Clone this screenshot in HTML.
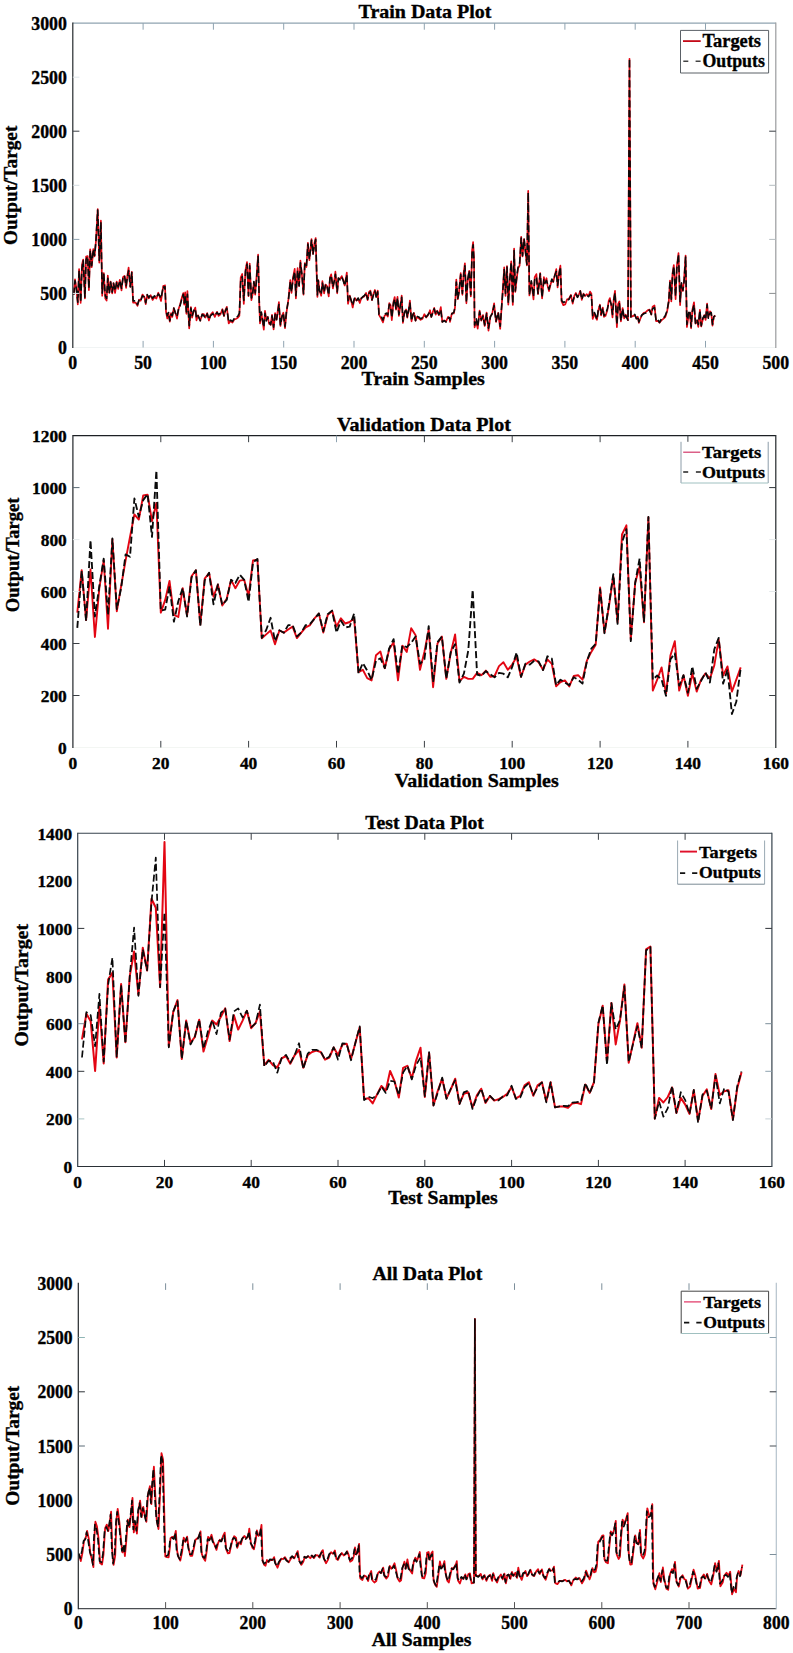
<!DOCTYPE html>
<html><head><meta charset="utf-8"><title>Data Plots</title>
<style>html,body{margin:0;padding:0;background:#fff}svg{display:block}text{font-family:"Liberation Serif","DejaVu Serif",serif;font-weight:bold;fill:#000;stroke:#000;stroke-width:.35px}</style></head>
<body>
<svg width="793" height="1653" viewBox="0 0 793 1653">
<rect width="793" height="1653" fill="#fff"/>
<g id="p1">
<path d="M73.8 294.5 L75 279.4 L76.3 287.6 L77.8 304.4 L79.1 269 L80.7 302.9 L82 264.7 L83.2 259.5 L84.9 298.4 L86.1 256.5 L87.7 256.1 L88.9 290.2 L90.2 249.4 L91.7 267.1 L93.3 249.1 L94.6 256.3 L95.9 241.6 L97.7 209.1 L99.3 262.6 L100.9 220.7 L102.2 295.8 L103.8 273.1 L105.3 298.6 L106.6 300.6 L107.8 275.6 L109.3 293 L110.6 281.6 L112.2 293.3 L113.5 283 L115.1 293 L116.7 281.6 L118.2 288.8 L119.8 279.9 L121.5 290.4 L123 277.2 L124.5 276 L126.1 288 L127.4 275.5 L128.6 267.6 L130.3 286.7 L131.8 271.8 L133.1 302.7 L135.6 302.5 L137.5 305.9 L139.1 299.6 L140.6 300.7 L142.5 294.6 L144.4 297.1 L145.7 304.1 L147.2 295.1 L148.8 298.3 L150.7 295.2 L152.6 299.9 L154.5 297.1 L156.4 298.5 L158.3 292.7 L159.8 297.3 L161 301 L163.3 285.8 L164.3 286.5 L165 285.3 L166 311.5 L167.3 318.5 L168.5 313.1 L169.8 321.6 L171.1 313.2 L172.3 316.9 L173.8 308.2 L175.3 312.3 L177 318.6 L178.6 309 L180.1 304.5 L181.6 298.6 L183.3 293.1 L184.2 304.6 L185.2 292.4 L186.4 313.8 L187.4 291 L189.2 328.4 L190.9 307 L192.1 317.6 L193.8 311.1 L195.3 307.6 L196.5 320.3 L198 315.3 L200.3 320.6 L202.2 314.2 L203.8 314.1 L205.4 317.6 L207.2 313.1 L208.9 320.5 L210.6 314.7 L212.7 312.2 L214.8 316.9 L217 311.8 L218.6 315.9 L220.5 314.3 L222.4 309.2 L224 316 L225.5 309.9 L226.8 306.9 L228.7 323.4 L230.6 321 L232.5 322.5 L234.4 319.4 L236.2 318.7 L238.1 317.5 L239.4 315.8 L240.7 277.6 L242.2 274 L243.8 303.9 L245.5 269.9 L247 262.1 L248.5 296.1 L249.7 263.6 L251.4 300.2 L252.6 294.4 L253.9 282 L255.2 294.7 L256.4 278.5 L258.1 254.7 L259.3 304.1 L260 323.4 L261.3 312.6 L262.5 320.8 L263.8 329.7 L265 310.8 L266.3 319.7 L267.8 316.9 L269.1 323.9 L270.7 324.9 L272 314.8 L273.6 329.4 L275.1 313.2 L276.6 319.7 L278.9 302 L280.4 326 L282.1 316 L283.3 312.7 L285 328.2 L286.5 312.6 L288.4 299.4 L290.3 280 L291.5 292.9 L293 277.6 L294.7 268.9 L295.9 298.5 L297.6 268.2 L299.1 286.1 L300.4 260.7 L301.9 274.8 L303.5 294.7 L304.8 263.1 L306.4 267 L307.9 242.9 L309.4 260.2 L311.5 239.2 L313 253.9 L314.5 242.8 L315.7 238 L316.7 275.1 L317.4 296.9 L318.3 280 L319.5 290.4 L321.2 295.8 L322.4 281.2 L324.1 293.3 L325.6 284.5 L327.1 286.4 L328.7 296.4 L330 277.6 L331.2 274.4 L332.9 288.5 L334.4 280.1 L335.4 271.7 L337.2 293.3 L338.4 278.3 L340.1 279 L341.7 276.1 L343.2 279.9 L344.7 285.5 L346.8 272.6 L348 303.8 L349.8 295.7 L351 299.5 L352.7 307.5 L354.3 299.7 L355 298.1 L356.5 300.5 L358.2 299.1 L359.8 303 L361.3 298.1 L362.8 297.3 L364.5 296.2 L366.1 292.9 L367.6 300.1 L369.1 291.9 L370.4 290.6 L372 300.1 L373.7 293 L374.9 290 L376.4 296.8 L377.7 290.6 L379 314.9 L380.9 318.1 L383 322.4 L384.6 315.7 L386.3 314.3 L387.8 316.6 L389.3 303.1 L390.6 305.1 L391.8 320.2 L393.5 301.6 L394.7 297 L396 309.6 L397.5 296.8 L398.9 315.9 L400.1 307.7 L401.7 295.7 L402.9 322.9 L404.4 313 L406.1 309.4 L407.3 317.6 L408.6 311 L409.9 300.6 L411.5 321.3 L413 314.6 L414 312.9 L415.5 320.6 L417 317 L418.7 318.1 L420.6 319.9 L422.5 318.7 L424.4 314.2 L426.2 317.5 L428.1 315.3 L430 310.2 L431.3 317 L432.9 311.8 L434.2 307.9 L435.7 314.6 L437.2 310.7 L438.9 315.2 L440.8 307.2 L442.3 321.8 L444.3 320.3 L446 321.7 L448.1 316.8 L449.6 318.8 L450 321.9 L451.9 313.3 L453.8 313.5 L455 307.7 L456.3 279.6 L457.8 299.1 L459.1 291.8 L460.7 273 L462.4 294.8 L463.6 273.3 L464.9 263.3 L466.4 303.3 L467.7 280.3 L469.2 270.9 L470.8 296.4 L472.1 250 L473.1 242 L474 258.4 L474.6 327.3 L476.2 321.5 L477.7 328.6 L479.6 310.7 L481.3 320.6 L483 315.1 L484.7 326 L486.6 312.5 L488.5 330.7 L490.4 316.4 L492.2 313.7 L494.1 303.4 L496 322 L498.2 312.9 L500.2 328.8 L501.7 305.7 L503 286.9 L504.2 267.3 L505.5 295.9 L507 266.2 L508.3 304.6 L509.5 285.2 L511.2 261.4 L512.8 304.9 L514.1 248.5 L515.3 291.9 L516.8 278 L518.1 268.3 L519.6 265.5 L521.2 236.8 L522.5 256.5 L524.1 239 L525.4 251.4 L526.9 265.4 L528.2 190.9 L529.4 295.4 L531.3 281.9 L533.5 299.4 L534.7 277.1 L536.4 274.1 L538 294.2 L540.2 273 L542.1 298.4 L543.9 277.2 L545 283.6 L546.5 278.2 L547.5 285.4 L549 291.1 L550.7 284.1 L551.9 280 L553.2 282 L554.8 275.4 L556.3 269.2 L557.6 287.5 L559.1 272.3 L560.4 265.7 L561.6 301.4 L563.3 305.1 L565.2 304.4 L567.1 299.4 L569 298.7 L570.9 295 L572.7 303.6 L574.3 296 L575.9 293 L577.5 296.9 L579 294.3 L580.3 290.9 L581.8 299.8 L583.5 293.6 L585.1 296 L586.6 294.2 L588.5 296.2 L590.1 291.6 L591.4 293.7 L592.7 318.9 L594.4 313 L595.7 317.4 L597 319.8 L598.2 310.8 L599.9 304.7 L601.1 315.3 L602.8 307.5 L604 316.9 L605.5 315.9 L607.4 310 L608.7 300.8 L609.9 298.1 L611.2 305.2 L612.5 317.5 L613.7 299.3 L615 290.8 L616.9 327.1 L618.1 304.1 L619.4 301.5 L620.9 321.4 L622.6 308 L624.2 318.5 L625.7 314.7 L628 320.1 L629.5 58.8 L630.9 316.9 L633.3 315.9 L634.8 315 L636.4 318.5 L637.7 316.7 L638.9 322.8 L640 319.5 L641.9 315.1 L643.8 312.9 L645.7 312.2 L647.6 310.4 L649.5 309.6 L651.3 314.5 L652.6 306.8 L654.5 305.5 L656.1 321.2 L657.9 320.8 L659.5 322.7 L661.4 320.4 L663.3 318.8 L665.2 317.2 L667.1 311.5 L668.8 301.5 L670 280.5 L671.3 301.4 L672.5 273.3 L673.8 265.1 L675.6 299.1 L676.8 266.7 L678.5 253.2 L680.1 305.1 L681.4 284.1 L682.9 291 L684.1 278.9 L685.6 255.6 L686.9 327 L688.5 316.4 L689.8 312.4 L691.1 328.3 L692.3 310.2 L694 302.3 L695.5 323.6 L697 320.5 L698.3 326.9 L699.9 309.8 L701.2 326.5 L702.8 319.5 L704.3 315 L705.6 319.9 L707.1 303.6 L708.3 317.6 L710 311.4 L711.2 312.9 L712.5 325.6 L713.8 316.6 L715.3 315.5" fill="none" stroke="#e30613" stroke-width="1.7" stroke-linejoin="round"/>
<path d="M73.8 294.6 L75 280.7 L76.3 288.3 L77.8 302.1 L79.1 270.6 L80.7 302.1 L82 268.1 L83.2 260.5 L84.9 297.1 L86.1 259.3 L87.7 256.7 L88.9 288.3 L90.2 250.4 L91.7 265.6 L93.3 249.2 L94.6 255.5 L95.9 241.6 L97.7 210.1 L99.3 260.5 L100.9 222.1 L102.2 293.3 L103.8 274.4 L105.3 295.8 L106.6 298.4 L107.8 278.2 L109.3 293.3 L110.6 282 L112.2 292.1 L113.5 283.2 L115.1 290.8 L116.7 282 L118.2 287 L119.8 280.7 L121.5 288.3 L123 278.2 L124.5 275.7 L126.1 285.8 L127.4 276.9 L128.6 270.6 L130.3 287 L131.8 272.5 L133.1 300.9 L135.6 300.9 L137.5 304.7 L139.1 299.6 L140.6 300.9 L142.5 295.8 L144.4 297.1 L145.7 302.8 L147.2 294.6 L148.8 297.7 L150.7 294.6 L152.6 298.4 L154.5 295.8 L156.4 297.7 L158.3 293.9 L159.8 295.8 L161 298.4 L163.3 286.4 L164.3 288.3 L165 286.7 L166 310.6 L167.3 315.7 L168.5 312.5 L169.8 320.7 L171.1 314.4 L172.3 315.7 L173.8 308.1 L175.3 313.1 L177 316.3 L178.6 308.7 L180.1 305.6 L181.6 299.9 L183.3 294.2 L184.2 303.1 L185.2 295.5 L186.4 311.9 L187.4 294.2 L189.2 325.8 L190.9 308.1 L192.1 315.7 L193.8 310.6 L195.3 308.7 L196.5 318.2 L198 315.7 L200.3 320.7 L202.2 314.4 L203.8 315.7 L205.4 318.2 L207.2 313.8 L208.9 319.4 L210.6 315.7 L212.7 313.8 L214.8 315.7 L217 312.5 L218.6 314.4 L220.5 313.1 L222.4 310 L224 315.7 L225.5 310.6 L226.8 308.1 L228.7 322 L230.6 320.1 L232.5 321.3 L234.4 318.2 L236.2 317.6 L238.1 315.7 L239.4 313.1 L240.7 280.4 L242.2 276.6 L243.8 300.5 L245.5 271.5 L247 264 L248.5 295.5 L249.7 265.9 L251.4 298 L252.6 294.2 L253.9 281.6 L255.2 293 L256.4 281.6 L258.1 256.4 L259.3 303.1 L260 320.9 L261.3 312.1 L262.5 319.6 L263.8 327.2 L265 313.3 L266.3 320.9 L267.8 317.1 L269.1 322.1 L270.7 324.7 L272 315.8 L273.6 327.2 L275.1 314.6 L276.6 319.6 L278.9 304.5 L280.4 324.7 L282.1 315.8 L283.3 313.3 L285 326.6 L286.5 310.8 L288.4 300.7 L290.3 281.8 L291.5 291.9 L293 279.3 L294.7 271.7 L295.9 295.7 L297.6 270.4 L299.1 285.6 L300.4 262.9 L301.9 274.2 L303.5 293.8 L304.8 264.1 L306.4 266.7 L307.9 244 L309.4 259.1 L311.5 240.2 L313 254 L314.5 245.2 L315.7 239.5 L316.7 273 L317.4 295 L318.3 280.5 L319.5 290.6 L321.2 294.4 L322.4 283.1 L324.1 291.9 L325.6 284.3 L327.1 286.8 L328.7 295 L330 278 L331.2 275.5 L332.9 286.8 L334.4 280.5 L335.4 274.2 L337.2 291.9 L338.4 278 L340.1 279.9 L341.7 277.4 L343.2 280.5 L344.7 285.6 L346.8 274.9 L348 300.7 L349.8 296.3 L351 300.1 L352.7 305.1 L354.3 298.8 L355 297.4 L356.5 300.5 L358.2 298 L359.8 301.2 L361.3 298.6 L362.8 296.7 L364.5 295.5 L366.1 293 L367.6 299.3 L369.1 293 L370.4 291.7 L372 299.9 L373.7 294.2 L374.9 291.1 L376.4 298 L377.7 291.7 L379 314.4 L380.9 315.7 L383 320.1 L384.6 314.4 L386.3 313.1 L387.8 315 L389.3 304.3 L390.6 306.8 L391.8 317.6 L393.5 303.1 L394.7 299.3 L396 308.7 L397.5 298 L398.9 314.4 L400.1 306.8 L401.7 297.4 L402.9 321.3 L404.4 313.1 L406.1 308.7 L407.3 316.9 L408.6 310.6 L409.9 303.1 L411.5 320.7 L413 314.4 L414 312.5 L415.5 320.7 L417 316.3 L418.7 316.9 L420.6 318.8 L422.5 317.6 L424.4 315.7 L426.2 316.9 L428.1 314.4 L430 311.9 L431.3 316.9 L432.9 312.5 L434.2 308.7 L435.7 314.4 L437.2 311.2 L438.9 314.4 L440.8 310 L442.3 322 L444.3 320.7 L446 322 L448.1 318.2 L449.6 317.6 L450 320 L451.9 313.7 L453.8 312.4 L455 307.4 L456.3 282.1 L457.8 298.5 L459.1 291 L460.7 274.6 L462.4 293.5 L463.6 275.8 L464.9 265.8 L466.4 302.3 L467.7 279.6 L469.2 270.8 L470.8 294.8 L472.1 253.1 L473.1 244.9 L474 260.7 L474.6 325 L476.2 318.7 L477.7 326.9 L479.6 311.8 L481.3 320 L483 316.2 L484.7 325 L486.6 313.7 L488.5 328.2 L490.4 316.8 L492.2 313.7 L494.1 305.5 L496 321.2 L498.2 312.4 L500.2 326.3 L501.7 306.1 L503 288.4 L504.2 269.5 L505.5 293.5 L507 267 L508.3 303 L509.5 283.4 L511.2 262.6 L512.8 303.6 L514.1 250.6 L515.3 291 L516.8 275.8 L518.1 267 L519.6 263.9 L521.2 238 L522.5 255.7 L524.1 239.3 L525.4 250.6 L526.9 264.5 L528.2 192.6 L529.4 294.8 L531.3 280.9 L533.5 296.6 L534.7 279.6 L536.4 277.1 L538 293.5 L540.2 273.9 L542.1 297.3 L543.9 279.6 L545 282.9 L546.5 280.4 L547.5 284.1 L549 289.2 L550.7 282.9 L551.9 279.1 L553.2 281.6 L554.8 275.3 L556.3 271.5 L557.6 285.4 L559.1 274 L560.4 267.1 L561.6 300.5 L563.3 302.4 L565.2 301.8 L567.1 300.5 L569 299.3 L570.9 295.5 L572.7 301.8 L574.3 296.7 L575.9 294.2 L577.5 297.4 L579 294.2 L580.3 291.1 L581.8 299.3 L583.5 294.2 L585.1 296.1 L586.6 294.9 L588.5 296.7 L590.1 294.2 L591.4 295.5 L592.7 315.7 L594.4 312.5 L595.7 315.7 L597 319.4 L598.2 310.6 L599.9 305.6 L601.1 314.4 L602.8 308.1 L604 315.7 L605.5 314.4 L607.4 308.7 L608.7 303.1 L609.9 300.5 L611.2 304.3 L612.5 314.4 L613.7 300.5 L615 293 L616.9 324.5 L618.1 305.6 L619.4 303.7 L620.9 320.7 L622.6 308.7 L624.2 318.2 L625.7 315.7 L628 320.1 L629.5 58.8 L630.9 316.9 L633.3 315.7 L634.8 314.4 L636.4 318.8 L637.7 316.3 L638.9 322 L640 318.2 L641.9 315 L643.8 313.8 L645.7 313.1 L647.6 311.9 L649.5 310 L651.3 314.4 L652.6 308.7 L654.5 307.5 L656.1 320.7 L657.9 319.4 L659.5 322.6 L661.4 318.8 L663.3 318.2 L665.2 315.7 L667.1 310.6 L668.8 300.5 L670 281.6 L671.3 299.3 L672.5 275.3 L673.8 266.5 L675.6 296.1 L676.8 269 L678.5 254.5 L680.1 301.8 L681.4 282.9 L682.9 290.4 L684.1 281.6 L685.6 257 L686.9 324.5 L688.5 313.1 L689.8 310.6 L691.1 327 L692.3 311.9 L694 304.9 L695.5 323.2 L697 319.4 L698.3 324.5 L699.9 310.6 L701.2 325.8 L702.8 318.2 L704.3 315.7 L705.6 319.4 L707.1 304.9 L708.3 318.2 L710 313.1 L711.2 312.5 L712.5 324.5 L713.8 316.9 L715.3 315.7" fill="none" stroke="#0a0a0a" stroke-width="1.6" stroke-dasharray="7 3" stroke-linejoin="round"/>
<line x1="72.8" y1="347.5" x2="775.8" y2="347.5" stroke="#f1f4f4" stroke-width="1.2"/>
<line x1="72.8" y1="23.1" x2="775.8" y2="23.1" stroke="#8fa3b0" stroke-width="1.1"/>
<line x1="775.8" y1="22.6" x2="775.8" y2="348.1" stroke="#9a9c9e" stroke-width="1.2"/>
<line x1="72.8" y1="22.6" x2="72.8" y2="348.1" stroke="#24282c" stroke-width="1.2"/>
<text x="72.8" y="368.9" font-size="18.1" text-anchor="middle" textLength="8.9" lengthAdjust="spacingAndGlyphs">0</text>
<line x1="143.1" y1="347.5" x2="143.1" y2="340.9" stroke="#8fa3b0" stroke-width="1"/>
<line x1="143.1" y1="23.1" x2="143.1" y2="29.7" stroke="#8fa3b0" stroke-width="1"/>
<text x="143.1" y="368.9" font-size="18.1" text-anchor="middle" textLength="17.8" lengthAdjust="spacingAndGlyphs">50</text>
<line x1="213.4" y1="347.5" x2="213.4" y2="340.9" stroke="#8fa3b0" stroke-width="1"/>
<line x1="213.4" y1="23.1" x2="213.4" y2="29.7" stroke="#8fa3b0" stroke-width="1"/>
<text x="213.4" y="368.9" font-size="18.1" text-anchor="middle" textLength="26.7" lengthAdjust="spacingAndGlyphs">100</text>
<line x1="283.7" y1="347.5" x2="283.7" y2="340.9" stroke="#8fa3b0" stroke-width="1"/>
<line x1="283.7" y1="23.1" x2="283.7" y2="29.7" stroke="#8fa3b0" stroke-width="1"/>
<text x="283.7" y="368.9" font-size="18.1" text-anchor="middle" textLength="26.7" lengthAdjust="spacingAndGlyphs">150</text>
<line x1="354" y1="347.5" x2="354" y2="340.9" stroke="#8fa3b0" stroke-width="1"/>
<line x1="354" y1="23.1" x2="354" y2="29.7" stroke="#8fa3b0" stroke-width="1"/>
<text x="354" y="368.9" font-size="18.1" text-anchor="middle" textLength="26.7" lengthAdjust="spacingAndGlyphs">200</text>
<line x1="424.3" y1="347.5" x2="424.3" y2="340.9" stroke="#8fa3b0" stroke-width="1"/>
<line x1="424.3" y1="23.1" x2="424.3" y2="29.7" stroke="#8fa3b0" stroke-width="1"/>
<text x="424.3" y="368.9" font-size="18.1" text-anchor="middle" textLength="26.7" lengthAdjust="spacingAndGlyphs">250</text>
<line x1="494.6" y1="347.5" x2="494.6" y2="340.9" stroke="#8fa3b0" stroke-width="1"/>
<line x1="494.6" y1="23.1" x2="494.6" y2="29.7" stroke="#8fa3b0" stroke-width="1"/>
<text x="494.6" y="368.9" font-size="18.1" text-anchor="middle" textLength="26.7" lengthAdjust="spacingAndGlyphs">300</text>
<line x1="564.9" y1="347.5" x2="564.9" y2="340.9" stroke="#8fa3b0" stroke-width="1"/>
<line x1="564.9" y1="23.1" x2="564.9" y2="29.7" stroke="#8fa3b0" stroke-width="1"/>
<text x="564.9" y="368.9" font-size="18.1" text-anchor="middle" textLength="26.7" lengthAdjust="spacingAndGlyphs">350</text>
<line x1="635.2" y1="347.5" x2="635.2" y2="340.9" stroke="#8fa3b0" stroke-width="1"/>
<line x1="635.2" y1="23.1" x2="635.2" y2="29.7" stroke="#8fa3b0" stroke-width="1"/>
<text x="635.2" y="368.9" font-size="18.1" text-anchor="middle" textLength="26.7" lengthAdjust="spacingAndGlyphs">400</text>
<line x1="705.5" y1="347.5" x2="705.5" y2="340.9" stroke="#8fa3b0" stroke-width="1"/>
<line x1="705.5" y1="23.1" x2="705.5" y2="29.7" stroke="#8fa3b0" stroke-width="1"/>
<text x="705.5" y="368.9" font-size="18.1" text-anchor="middle" textLength="26.7" lengthAdjust="spacingAndGlyphs">450</text>
<text x="775.8" y="368.9" font-size="18.1" text-anchor="middle" textLength="26.7" lengthAdjust="spacingAndGlyphs">500</text>
<text x="66.9" y="354.1" font-size="18.1" text-anchor="end" textLength="8.9" lengthAdjust="spacingAndGlyphs">0</text>
<line x1="72.8" y1="293.4" x2="79.4" y2="293.4" stroke="#e3e9ec" stroke-width="1"/>
<line x1="775.8" y1="293.4" x2="769.2" y2="293.4" stroke="#8a8d90" stroke-width="1"/>
<text x="66.9" y="300.1" font-size="18.1" text-anchor="end" textLength="26.7" lengthAdjust="spacingAndGlyphs">500</text>
<line x1="72.8" y1="239.4" x2="79.4" y2="239.4" stroke="#8fa3b0" stroke-width="1"/>
<line x1="775.8" y1="239.4" x2="769.2" y2="239.4" stroke="#b5bcc0" stroke-width="1"/>
<text x="66.9" y="246" font-size="18.1" text-anchor="end" textLength="35.6" lengthAdjust="spacingAndGlyphs">1000</text>
<line x1="72.8" y1="185.3" x2="79.4" y2="185.3" stroke="#d5dde2" stroke-width="1"/>
<line x1="775.8" y1="185.3" x2="769.2" y2="185.3" stroke="#b5bcc0" stroke-width="1"/>
<text x="66.9" y="191.9" font-size="18.1" text-anchor="end" textLength="35.6" lengthAdjust="spacingAndGlyphs">1500</text>
<line x1="72.8" y1="131.2" x2="79.4" y2="131.2" stroke="#3a3f44" stroke-width="1"/>
<line x1="775.8" y1="131.2" x2="769.2" y2="131.2" stroke="#3a3f44" stroke-width="1"/>
<text x="66.9" y="137.9" font-size="18.1" text-anchor="end" textLength="35.6" lengthAdjust="spacingAndGlyphs">2000</text>
<line x1="72.8" y1="77.2" x2="79.4" y2="77.2" stroke="#dfe6ea" stroke-width="1"/>
<text x="66.9" y="83.8" font-size="18.1" text-anchor="end" textLength="35.6" lengthAdjust="spacingAndGlyphs">2500</text>
<text x="66.9" y="29.7" font-size="18.1" text-anchor="end" textLength="35.6" lengthAdjust="spacingAndGlyphs">3000</text>
<text x="425" y="17.7" font-size="18.30" text-anchor="middle" textLength="132.8" lengthAdjust="spacingAndGlyphs">Train Data Plot</text>
<text x="423.2" y="385.4" font-size="18.30" text-anchor="middle" textLength="123.2" lengthAdjust="spacingAndGlyphs">Train Samples</text>
<text transform="translate(17 185.3) rotate(-90)" font-size="19.28" text-anchor="middle" textLength="119.3" lengthAdjust="spacingAndGlyphs">Output/Target</text>
<rect x="680.5" y="30.4" width="88.1" height="42.6" fill="#fff"/>
<line x1="680.5" y1="30.4" x2="680.5" y2="73" stroke="#5a6066" stroke-width="1"/>
<line x1="680.5" y1="30.4" x2="768.6" y2="30.4" stroke="#5a6066" stroke-width="1"/>
<line x1="768.6" y1="30.4" x2="768.6" y2="73" stroke="#5a6066" stroke-width="1"/>
<line x1="680.5" y1="73" x2="768.6" y2="73" stroke="#5a6066" stroke-width="1"/>
<line x1="683" y1="41.1" x2="700.7" y2="41.1" stroke="#c40a18" stroke-width="1.8"/>
<line x1="683.3" y1="61.3" x2="700.6" y2="61.3" stroke="#444" stroke-width="1.4" stroke-dasharray="5 7.3"/>
<text x="702.5" y="47.3" font-size="18.40" text-anchor="start" textLength="58.5" lengthAdjust="spacingAndGlyphs">Targets</text>
<text x="702.5" y="67.2" font-size="18.40" text-anchor="start" textLength="62.4" lengthAdjust="spacingAndGlyphs">Outputs</text>
</g>
<g id="p2">
<path d="M77.3 612.6 L81.7 570.2 L86.1 620.1 L90.5 569.5 L94.9 637 L99.3 588.4 L103.7 560.4 L108 628.7 L112.4 539.3 L116.8 611.3 L121.2 585.6 L125.6 560.4 L130 537 L134.4 514.4 L138.8 519.6 L143.2 495.4 L147.6 494.6 L152 521.1 L156.4 502.9 L160.8 612.6 L165.2 599.9 L169.5 580.9 L173.9 614.9 L178.3 617 L182.7 588.2 L187.1 615.5 L191.5 576.2 L195.9 570.2 L200.3 624.6 L204.7 578.6 L209.1 573.1 L213.5 596.7 L217.9 584.5 L222.3 605.6 L226.7 598.8 L231.1 579.9 L235.4 588.2 L239.8 580.6 L244.2 579.9 L248.6 596 L253 560.4 L257.4 559.6 L261.8 638.3 L266.2 634.4 L270.6 630.5 L275 644.3 L279.4 630.5 L283.8 632.6 L288.2 629.5 L292.6 626.6 L296.9 638.1 L301.3 632.6 L305.7 627.4 L310.1 625.1 L314.5 618.3 L318.9 613.6 L323.3 632.6 L327.7 615.2 L332.1 610.8 L336.5 626.6 L340.9 618.3 L345.3 623.5 L349.7 622 L354.1 618.3 L358.5 672.1 L362.8 669.8 L367.2 678.1 L371.6 680.4 L376 655.2 L380.4 651.6 L384.8 668.2 L389.2 649.3 L393.6 642.2 L398 680.4 L402.4 645.6 L406.8 651.9 L411.2 628.2 L415.6 635.2 L420 669.8 L424.4 651.9 L428.7 629.8 L433.1 687.2 L437.5 643.5 L441.9 636.5 L446.3 678.9 L450.7 653.2 L455.1 634.4 L459.5 681.2 L463.9 676.8 L468.3 678.9 L472.7 678.9 L477.1 672.9 L481.5 675.2 L485.9 670.6 L490.2 676.8 L494.6 676 L499 666.1 L503.4 662.2 L507.8 669.8 L512.2 664.6 L516.6 657 L521 676.8 L525.4 664.6 L529.8 661.5 L534.2 659.4 L538.6 662.2 L543 669.8 L547.4 659.4 L551.8 663.8 L556.1 686.4 L560.5 682 L564.9 680.4 L569.3 686.4 L573.7 676 L578.1 675.2 L582.5 679.7 L586.9 660.7 L591.3 651.9 L595.7 644.8 L600.1 587.4 L604.5 632.6 L608.9 606.6 L613.3 576 L617.6 622.2 L622 534.4 L626.4 525.3 L630.8 639.4 L635.2 582.7 L639.6 566.6 L644 622.2 L648.4 517.2 L652.8 690.6 L657.2 679.7 L661.6 667.4 L666 693.7 L670.4 655.5 L674.8 641.2 L679.2 690.6 L683.5 675.5 L687.9 695.8 L692.3 673.4 L696.7 691.6 L701.1 679.7 L705.5 673.4 L709.9 678.6 L714.3 665.4 L718.7 639.4 L723.1 675.5 L727.5 666.4 L731.9 691.6 L736.3 679.7 L740.7 667.4" fill="none" stroke="#e30613" stroke-width="1.9" stroke-linejoin="round"/>
<path d="M77.3 627.9 L81.7 571 L86.1 620.9 L90.5 540.1 L94.9 616.5 L99.3 586.4 L103.7 558.7 L108 614.9 L112.4 538.5 L116.8 609 L121.2 587.7 L125.6 554.4 L130 556.7 L134.4 498.5 L138.8 516.7 L143.2 500.1 L147.6 494.1 L152 537 L156.4 470.4 L160.8 610.7 L165.2 609.7 L169.5 586.4 L173.9 621.7 L178.3 601.2 L182.7 588.1 L187.1 616.5 L191.5 577.6 L195.9 570.2 L200.3 625.9 L204.7 580.4 L209.1 572.8 L213.5 604.3 L217.9 584.4 L222.3 604.9 L226.7 600 L231.1 579.8 L235.4 583 L239.8 574.7 L244.2 579.9 L248.6 601.9 L253 562.3 L257.4 558.9 L261.8 637.9 L266.2 630 L270.6 617.8 L275 641.2 L279.4 630.3 L283.8 632.8 L288.2 625.1 L292.6 625.1 L296.9 636.5 L301.3 632.4 L305.7 625.1 L310.1 623.9 L314.5 618.8 L318.9 613.4 L323.3 631.3 L327.7 614.3 L332.1 610.6 L336.5 632.6 L340.9 620.7 L345.3 627.4 L349.7 626.6 L354.1 613.6 L358.5 673.5 L362.8 663 L367.2 670.6 L371.6 679.9 L376 660.7 L380.4 658.3 L384.8 668.1 L389.2 648.3 L393.6 639.1 L398 673.9 L402.4 645.3 L406.8 647.2 L411.2 642.8 L415.6 636.5 L420 663.8 L424.4 659.4 L428.7 626.1 L433.1 682 L437.5 642.1 L441.9 636.6 L446.3 678.6 L450.7 652.3 L455.1 644.1 L459.5 682.6 L463.9 673.7 L468.3 650.3 L472.7 589.7 L477.1 674.5 L481.5 675.8 L485.9 671.2 L490.2 674.2 L494.6 677.3 L499 672.9 L503.4 673.7 L507.8 677.3 L512.2 666.9 L516.6 652.4 L521 676.9 L525.4 663.7 L529.8 664.6 L534.2 660.7 L538.6 661.4 L543 670.1 L547.4 656.3 L551.8 658.6 L556.1 685.1 L560.5 679.7 L564.9 682.5 L569.3 685.2 L573.7 677.3 L578.1 679.7 L582.5 683.6 L586.9 661.2 L591.3 648.7 L595.7 643.9 L600.1 589.1 L604.5 633.2 L608.9 605 L613.3 574.1 L617.6 623.9 L622 542.4 L626.4 529.2 L630.8 641.1 L635.2 582.8 L639.6 558.5 L644 621.3 L648.4 517 L652.8 679.7 L657.2 675.5 L661.6 679.7 L666 695.8 L670.4 659.4 L674.8 653.4 L679.2 685.6 L683.5 675.1 L687.9 692.7 L692.3 666.4 L696.7 688.8 L701.1 680.9 L705.5 672.7 L709.9 682.5 L714.3 649.3 L718.7 637.9 L723.1 683.6 L727.5 669.5 L731.9 714 L736.3 701.8 L740.7 668" fill="none" stroke="#0a0a0a" stroke-width="1.85" stroke-dasharray="7 3" stroke-linejoin="round"/>
<line x1="72.9" y1="747.5" x2="775.8" y2="747.5" stroke="#f3f6f3" stroke-width="1.2"/>
<line x1="72.9" y1="435.6" x2="775.8" y2="435.6" stroke="#1c2024" stroke-width="1.1"/>
<line x1="775.8" y1="435.1" x2="775.8" y2="748.1" stroke="#22262a" stroke-width="1.2"/>
<line x1="72.9" y1="435.1" x2="72.9" y2="748.1" stroke="#22262a" stroke-width="1.2"/>
<text x="72.9" y="768.6" font-size="17" text-anchor="middle" textLength="8.7" lengthAdjust="spacingAndGlyphs">0</text>
<line x1="160.8" y1="747.5" x2="160.8" y2="740.9" stroke="#3a3f44" stroke-width="1"/>
<line x1="160.8" y1="435.6" x2="160.8" y2="442.2" stroke="#3a3f44" stroke-width="1"/>
<text x="160.8" y="768.6" font-size="17" text-anchor="middle" textLength="17.4" lengthAdjust="spacingAndGlyphs">20</text>
<line x1="248.6" y1="747.5" x2="248.6" y2="740.9" stroke="#3a3f44" stroke-width="1"/>
<line x1="248.6" y1="435.6" x2="248.6" y2="442.2" stroke="#3a3f44" stroke-width="1"/>
<text x="248.6" y="768.6" font-size="17" text-anchor="middle" textLength="17.4" lengthAdjust="spacingAndGlyphs">40</text>
<line x1="336.5" y1="747.5" x2="336.5" y2="740.9" stroke="#3a3f44" stroke-width="1"/>
<line x1="336.5" y1="435.6" x2="336.5" y2="442.2" stroke="#8fa3b0" stroke-width="1"/>
<text x="336.5" y="768.6" font-size="17" text-anchor="middle" textLength="17.4" lengthAdjust="spacingAndGlyphs">60</text>
<line x1="424.4" y1="747.5" x2="424.4" y2="740.9" stroke="#3a3f44" stroke-width="1"/>
<line x1="424.4" y1="435.6" x2="424.4" y2="442.2" stroke="#3a3f44" stroke-width="1"/>
<text x="424.4" y="768.6" font-size="17" text-anchor="middle" textLength="17.4" lengthAdjust="spacingAndGlyphs">80</text>
<line x1="512.2" y1="747.5" x2="512.2" y2="740.9" stroke="#3a3f44" stroke-width="1"/>
<line x1="512.2" y1="435.6" x2="512.2" y2="442.2" stroke="#3a3f44" stroke-width="1"/>
<text x="512.2" y="768.6" font-size="17" text-anchor="middle" textLength="26.1" lengthAdjust="spacingAndGlyphs">100</text>
<line x1="600.1" y1="747.5" x2="600.1" y2="740.9" stroke="#3a3f44" stroke-width="1"/>
<line x1="600.1" y1="435.6" x2="600.1" y2="442.2" stroke="#3a3f44" stroke-width="1"/>
<text x="600.1" y="768.6" font-size="17" text-anchor="middle" textLength="26.1" lengthAdjust="spacingAndGlyphs">120</text>
<line x1="687.9" y1="747.5" x2="687.9" y2="740.9" stroke="#3a3f44" stroke-width="1"/>
<line x1="687.9" y1="435.6" x2="687.9" y2="442.2" stroke="#3a3f44" stroke-width="1"/>
<text x="687.9" y="768.6" font-size="17" text-anchor="middle" textLength="26.1" lengthAdjust="spacingAndGlyphs">140</text>
<text x="775.8" y="768.6" font-size="17" text-anchor="middle" textLength="26.1" lengthAdjust="spacingAndGlyphs">160</text>
<text x="66.8" y="753.7" font-size="17" text-anchor="end" textLength="8.7" lengthAdjust="spacingAndGlyphs">0</text>
<line x1="72.9" y1="695.5" x2="79.5" y2="695.5" stroke="#3a3f44" stroke-width="1"/>
<line x1="775.8" y1="695.5" x2="769.2" y2="695.5" stroke="#3a3f44" stroke-width="1"/>
<text x="66.8" y="701.8" font-size="17" text-anchor="end" textLength="26.1" lengthAdjust="spacingAndGlyphs">200</text>
<line x1="72.9" y1="643.5" x2="79.5" y2="643.5" stroke="#3a3f44" stroke-width="1"/>
<line x1="775.8" y1="643.5" x2="769.2" y2="643.5" stroke="#3a3f44" stroke-width="1"/>
<text x="66.8" y="649.8" font-size="17" text-anchor="end" textLength="26.1" lengthAdjust="spacingAndGlyphs">400</text>
<line x1="72.9" y1="591.5" x2="79.5" y2="591.5" stroke="#e5eaec" stroke-width="1"/>
<line x1="775.8" y1="591.5" x2="769.2" y2="591.5" stroke="#e5eaec" stroke-width="1"/>
<text x="66.8" y="597.8" font-size="17" text-anchor="end" textLength="26.1" lengthAdjust="spacingAndGlyphs">600</text>
<line x1="72.9" y1="539.6" x2="79.5" y2="539.6" stroke="#e5eaec" stroke-width="1"/>
<line x1="775.8" y1="539.6" x2="769.2" y2="539.6" stroke="#e5eaec" stroke-width="1"/>
<text x="66.8" y="545.8" font-size="17" text-anchor="end" textLength="26.1" lengthAdjust="spacingAndGlyphs">800</text>
<line x1="72.9" y1="487.6" x2="79.5" y2="487.6" stroke="#5a6a76" stroke-width="1"/>
<line x1="775.8" y1="487.6" x2="769.2" y2="487.6" stroke="#2e3338" stroke-width="1"/>
<text x="66.8" y="493.8" font-size="17" text-anchor="end" textLength="34.7" lengthAdjust="spacingAndGlyphs">1000</text>
<text x="66.8" y="441.8" font-size="17" text-anchor="end" textLength="34.7" lengthAdjust="spacingAndGlyphs">1200</text>
<text x="423.9" y="430.6" font-size="18.30" text-anchor="middle" textLength="173.8" lengthAdjust="spacingAndGlyphs">Validation Data Plot</text>
<text x="476.7" y="787" font-size="18.30" text-anchor="middle" textLength="163.9" lengthAdjust="spacingAndGlyphs">Validation Samples</text>
<text transform="translate(19.2 554.9) rotate(-90)" font-size="18.51" text-anchor="middle" textLength="114.5" lengthAdjust="spacingAndGlyphs">Output/Target</text>
<rect x="681" y="441.8" width="87.2" height="41.2" fill="#fff"/>
<line x1="681" y1="441.8" x2="681" y2="483" stroke="#8c9ca8" stroke-width="1"/>
<line x1="768.2" y1="441.8" x2="768.2" y2="483" stroke="#8c9ca8" stroke-width="1"/>
<line x1="681" y1="483" x2="768.2" y2="483" stroke="#9fc0c0" stroke-width="1"/>
<line x1="683.2" y1="452.2" x2="700.3" y2="452.2" stroke="#d2386a" stroke-width="1.2"/>
<line x1="683.2" y1="472" x2="700.9" y2="472" stroke="#222" stroke-width="1.6" stroke-dasharray="5 7.7"/>
<text x="702" y="457.8" font-size="16.80" text-anchor="start" textLength="59.2" lengthAdjust="spacingAndGlyphs">Targets</text>
<text x="702" y="478.4" font-size="16.80" text-anchor="start" textLength="62.9" lengthAdjust="spacingAndGlyphs">Outputs</text>
</g>
<g id="p3">
<path d="M82 1039.4 L86.4 1013.7 L90.7 1021.3 L95.1 1071 L99.4 1006 L103.7 1063.4 L108.1 979.6 L112.4 972.7 L116.7 1057.5 L121.1 984.1 L125.4 1042.2 L129.8 975.8 L134.1 951.5 L138.4 994.6 L142.8 947.7 L147.1 970.6 L151.5 898.7 L155.8 907.7 L160.1 987.2 L164.5 842 L168.8 1046.3 L173.2 1012.2 L177.5 1000.1 L181.8 1058.9 L186.2 1020.6 L190.5 1042.7 L194.8 1037.2 L199.2 1019.8 L203.5 1051.5 L207.9 1036.5 L212.2 1020.6 L216.5 1024.4 L220.9 1016.8 L225.2 1008.4 L229.6 1041 L233.9 1015.3 L238.2 1029.6 L242.6 1020.6 L246.9 1010.8 L251.2 1028.2 L255.6 1022.9 L259.9 1011.5 L264.3 1065.1 L268.6 1059.8 L272.9 1065.1 L277.3 1067.5 L281.6 1058.4 L286 1056 L290.3 1063.7 L294.6 1055.3 L299 1049.8 L303.3 1067.7 L307.7 1055.1 L312 1052 L316.3 1050.6 L320.7 1052 L325 1059.6 L329.3 1057.5 L333.7 1047.5 L338 1055.1 L342.4 1044.6 L346.7 1043.7 L351 1058.9 L355.4 1042.9 L359.7 1027.2 L364.1 1098.9 L368.4 1098.2 L372.7 1103.4 L377.1 1094.4 L381.4 1086 L385.8 1090.6 L390.1 1071 L394.4 1080.8 L398.8 1097.5 L403.1 1067.9 L407.4 1065.8 L411.8 1078.4 L416.1 1060.6 L420.5 1047.7 L424.8 1097 L429.1 1052.9 L433.5 1105.3 L437.8 1090.8 L442.2 1078.7 L446.5 1098.4 L450.8 1089.4 L455.2 1078.7 L459.5 1103.6 L463.8 1093.9 L468.2 1092.2 L472.5 1107.5 L476.9 1095.3 L481.2 1088.7 L485.5 1102.9 L489.9 1096 L494.2 1100.6 L498.6 1099.1 L502.9 1097 L507.2 1093.9 L511.6 1087 L515.9 1098.4 L520.3 1095.8 L524.6 1085.3 L528.9 1082.2 L533.3 1095.8 L537.6 1085.3 L541.9 1082.2 L546.3 1101.3 L550.6 1082.2 L555 1107.2 L559.3 1106.5 L563.6 1106.5 L568 1107.9 L572.3 1103.4 L576.7 1102.7 L581 1104.1 L585.3 1084.6 L589.7 1092.9 L594 1082.2 L598.4 1024.1 L602.7 1005.8 L607 1061.7 L611.4 1002.9 L615.7 1044.4 L620 1020.3 L624.4 984.6 L628.7 1062.7 L633.1 1042.9 L637.4 1023.2 L641.7 1047.7 L646.1 949.4 L650.4 946.5 L654.8 1118.6 L659.1 1097.9 L663.4 1102.5 L667.8 1097 L672.1 1087.5 L676.4 1112.9 L680.8 1097.9 L685.1 1104.4 L689.5 1113.9 L693.8 1090.3 L698.1 1120.6 L702.5 1096 L706.8 1089.4 L711.2 1109.1 L715.5 1074.1 L719.8 1095.1 L724.2 1091.3 L728.5 1090.3 L732.9 1119.6 L737.2 1088.4 L741.5 1072.2" fill="none" stroke="#e30613" stroke-width="2.0" stroke-linejoin="round"/>
<path d="M82 1057.5 L86.4 1012.1 L90.7 1015.1 L95.1 1046.3 L99.4 993.9 L103.7 1061.7 L108.1 984.9 L112.4 957.7 L116.7 1057.4 L121.1 985 L125.4 1043.5 L129.8 975.8 L134.1 927.5 L138.4 995.8 L142.8 949.4 L147.1 970.3 L151.5 901.8 L155.8 857.7 L160.1 987.1 L164.5 912.2 L168.8 1047.5 L173.2 1011.6 L177.5 1001.2 L181.8 1058.9 L186.2 1020.6 L190.5 1044.5 L194.8 1036.6 L199.2 1019.5 L203.5 1048.7 L207.9 1031.3 L212.2 1020.3 L216.5 1034.1 L220.9 1012.9 L225.2 1008.6 L229.6 1039.6 L233.9 1011.5 L238.2 1008.4 L242.6 1017.5 L246.9 1010.6 L251.2 1027.1 L255.6 1023.4 L259.9 1004.6 L264.3 1066.5 L268.6 1060.8 L272.9 1061.5 L277.3 1072.7 L281.6 1058.2 L286 1054.8 L290.3 1062.8 L294.6 1055.2 L299 1043.2 L303.3 1069 L307.7 1053.7 L312 1049.8 L316.3 1049.8 L320.7 1051.5 L325 1059.5 L329.3 1056.6 L333.7 1047.2 L338 1059.6 L342.4 1043.3 L346.7 1043.7 L351 1060.3 L355.4 1042.7 L359.7 1026.4 L364.1 1100.2 L368.4 1096.7 L372.7 1098.2 L377.1 1094.8 L381.4 1086.6 L385.8 1092.9 L390.1 1080.8 L394.4 1081.5 L398.8 1095.1 L403.1 1072.5 L407.4 1065.9 L411.8 1079.4 L416.1 1065.1 L420.5 1057.5 L424.8 1096.2 L429.1 1052.2 L433.5 1105.6 L437.8 1092.6 L442.2 1077.5 L446.5 1098.9 L450.8 1088.5 L455.2 1080.2 L459.5 1104.2 L463.8 1092.4 L468.2 1090.5 L472.5 1109 L476.9 1096.9 L481.2 1088.7 L485.5 1102.1 L489.9 1095.8 L494.2 1100.2 L498.6 1100.3 L502.9 1096.3 L507.2 1095.3 L511.6 1085.7 L515.9 1098.9 L520.3 1097.5 L524.6 1087 L528.9 1083.1 L533.3 1094.9 L537.6 1087.4 L541.9 1082.3 L546.3 1102.4 L550.6 1082.4 L555 1107.5 L559.3 1106.5 L563.6 1105.8 L568 1106.1 L572.3 1102.7 L576.7 1102.2 L581 1101.3 L585.3 1083 L589.7 1093.1 L594 1082.8 L598.4 1022.7 L602.7 1005.4 L607 1065.1 L611.4 1003 L615.7 1029.4 L620 1020.1 L624.4 986.1 L628.7 1062.1 L633.1 1043.6 L637.4 1026.1 L641.7 1048 L646.1 950.5 L650.4 947.1 L654.8 1118.8 L659.1 1101.5 L663.4 1116.7 L667.8 1108.2 L672.1 1086 L676.4 1112.8 L680.8 1092.2 L685.1 1099.8 L689.5 1113.9 L693.8 1089.9 L698.1 1122.7 L702.5 1094.6 L706.8 1090.6 L711.2 1108.6 L715.5 1075.5 L719.8 1103.4 L724.2 1088.4 L728.5 1091.5 L732.9 1120.1 L737.2 1086.2 L741.5 1071.4" fill="none" stroke="#0a0a0a" stroke-width="1.7" stroke-dasharray="7 3" stroke-linejoin="round"/>
<line x1="77.7" y1="1166.5" x2="771.9" y2="1166.5" stroke="#2a3036" stroke-width="1.2"/>
<line x1="77.7" y1="833.2" x2="771.9" y2="833.2" stroke="#36424c" stroke-width="1.1"/>
<line x1="771.9" y1="832.7" x2="771.9" y2="1167.1" stroke="#36424c" stroke-width="1.2"/>
<line x1="77.7" y1="832.7" x2="77.7" y2="1167.1" stroke="#36424c" stroke-width="1.2"/>
<text x="77.7" y="1187.9" font-size="17.7" text-anchor="middle" textLength="8.7" lengthAdjust="spacingAndGlyphs">0</text>
<line x1="164.5" y1="1166.5" x2="164.5" y2="1159.9" stroke="#3a3f44" stroke-width="1"/>
<line x1="164.5" y1="833.2" x2="164.5" y2="839.8" stroke="#3a3f44" stroke-width="1"/>
<text x="164.5" y="1187.9" font-size="17.7" text-anchor="middle" textLength="17.4" lengthAdjust="spacingAndGlyphs">20</text>
<line x1="251.2" y1="1166.5" x2="251.2" y2="1159.9" stroke="#3a3f44" stroke-width="1"/>
<line x1="251.2" y1="833.2" x2="251.2" y2="839.8" stroke="#3a3f44" stroke-width="1"/>
<text x="251.2" y="1187.9" font-size="17.7" text-anchor="middle" textLength="17.4" lengthAdjust="spacingAndGlyphs">40</text>
<line x1="338" y1="1166.5" x2="338" y2="1159.9" stroke="#3a3f44" stroke-width="1"/>
<line x1="338" y1="833.2" x2="338" y2="839.8" stroke="#3a3f44" stroke-width="1"/>
<text x="338" y="1187.9" font-size="17.7" text-anchor="middle" textLength="17.4" lengthAdjust="spacingAndGlyphs">60</text>
<line x1="424.8" y1="1166.5" x2="424.8" y2="1159.9" stroke="#3a3f44" stroke-width="1"/>
<line x1="424.8" y1="833.2" x2="424.8" y2="839.8" stroke="#3a3f44" stroke-width="1"/>
<text x="424.8" y="1187.9" font-size="17.7" text-anchor="middle" textLength="17.4" lengthAdjust="spacingAndGlyphs">80</text>
<line x1="511.6" y1="1166.5" x2="511.6" y2="1159.9" stroke="#3a3f44" stroke-width="1"/>
<line x1="511.6" y1="833.2" x2="511.6" y2="839.8" stroke="#3a3f44" stroke-width="1"/>
<text x="511.6" y="1187.9" font-size="17.7" text-anchor="middle" textLength="26.1" lengthAdjust="spacingAndGlyphs">100</text>
<line x1="598.4" y1="1166.5" x2="598.4" y2="1159.9" stroke="#3a3f44" stroke-width="1"/>
<line x1="598.4" y1="833.2" x2="598.4" y2="839.8" stroke="#3a3f44" stroke-width="1"/>
<text x="598.4" y="1187.9" font-size="17.7" text-anchor="middle" textLength="26.1" lengthAdjust="spacingAndGlyphs">120</text>
<line x1="685.1" y1="1166.5" x2="685.1" y2="1159.9" stroke="#3a3f44" stroke-width="1"/>
<line x1="685.1" y1="833.2" x2="685.1" y2="839.8" stroke="#3a3f44" stroke-width="1"/>
<text x="685.1" y="1187.9" font-size="17.7" text-anchor="middle" textLength="26.1" lengthAdjust="spacingAndGlyphs">140</text>
<text x="771.9" y="1187.9" font-size="17.7" text-anchor="middle" textLength="26.1" lengthAdjust="spacingAndGlyphs">160</text>
<text x="72.1" y="1173" font-size="17.7" text-anchor="end" textLength="8.7" lengthAdjust="spacingAndGlyphs">0</text>
<line x1="77.7" y1="1118.9" x2="84.3" y2="1118.9" stroke="#a8c4c4" stroke-width="1"/>
<line x1="771.9" y1="1118.9" x2="765.3" y2="1118.9" stroke="#c5d0d6" stroke-width="1"/>
<text x="72.1" y="1125.4" font-size="17.7" text-anchor="end" textLength="26.1" lengthAdjust="spacingAndGlyphs">200</text>
<line x1="77.7" y1="1071.3" x2="84.3" y2="1071.3" stroke="#2e3338" stroke-width="1"/>
<line x1="771.9" y1="1071.3" x2="765.3" y2="1071.3" stroke="#8fa3b0" stroke-width="1"/>
<text x="72.1" y="1077.8" font-size="17.7" text-anchor="end" textLength="26.1" lengthAdjust="spacingAndGlyphs">400</text>
<line x1="77.7" y1="1023.7" x2="84.3" y2="1023.7" stroke="#7d8f9b" stroke-width="1"/>
<line x1="771.9" y1="1023.7" x2="765.3" y2="1023.7" stroke="#7d8f9b" stroke-width="1"/>
<text x="72.1" y="1030.1" font-size="17.7" text-anchor="end" textLength="26.1" lengthAdjust="spacingAndGlyphs">600</text>
<text x="72.1" y="982.5" font-size="17.7" text-anchor="end" textLength="26.1" lengthAdjust="spacingAndGlyphs">800</text>
<line x1="77.7" y1="928.4" x2="84.3" y2="928.4" stroke="#2e3338" stroke-width="1"/>
<line x1="771.9" y1="928.4" x2="765.3" y2="928.4" stroke="#2e3338" stroke-width="1"/>
<text x="72.1" y="934.9" font-size="17.7" text-anchor="end" textLength="34.7" lengthAdjust="spacingAndGlyphs">1000</text>
<text x="72.1" y="887.3" font-size="17.7" text-anchor="end" textLength="34.7" lengthAdjust="spacingAndGlyphs">1200</text>
<text x="72.1" y="839.7" font-size="17.7" text-anchor="end" textLength="34.7" lengthAdjust="spacingAndGlyphs">1400</text>
<text x="424.6" y="828.6" font-size="18.30" text-anchor="middle" textLength="118.7" lengthAdjust="spacingAndGlyphs">Test Data Plot</text>
<text x="443" y="1204.3" font-size="18.30" text-anchor="middle" textLength="109.5" lengthAdjust="spacingAndGlyphs">Test Samples</text>
<text transform="translate(27.7 985.3) rotate(-90)" font-size="19.82" text-anchor="middle" textLength="122.6" lengthAdjust="spacingAndGlyphs">Output/Target</text>
<rect x="677.6" y="840.5" width="87" height="43.7" fill="#fff"/>
<line x1="677.6" y1="840.5" x2="677.6" y2="884.2" stroke="#9aa9b3" stroke-width="1"/>
<line x1="764.6" y1="840.5" x2="764.6" y2="884.2" stroke="#9aa9b3" stroke-width="1"/>
<line x1="677.6" y1="884.2" x2="764.6" y2="884.2" stroke="#7a8a94" stroke-width="1"/>
<line x1="680" y1="851.6" x2="697" y2="851.6" stroke="#e0102a" stroke-width="1.9"/>
<line x1="680" y1="873.1" x2="697.3" y2="873.1" stroke="#111" stroke-width="1.8" stroke-dasharray="5.2 6.9"/>
<text x="699.1" y="858.2" font-size="17.50" text-anchor="start" textLength="58" lengthAdjust="spacingAndGlyphs">Targets</text>
<text x="699.1" y="878.2" font-size="17.50" text-anchor="start" textLength="61.8" lengthAdjust="spacingAndGlyphs">Outputs</text>
</g>
<g id="p4">
<path d="M79.3 1554.5 L80.8 1561 L82.4 1553.1 L84.1 1540.5 L85.6 1538.5 L87.1 1530.9 L88.7 1538.2 L90.4 1553.9 L91.9 1558.9 L93.4 1567.1 L94.4 1537.6 L95.4 1521.7 L96.9 1526.2 L98.5 1537.8 L100.1 1563.1 L102 1564.5 L103.5 1554.5 L105.1 1528.2 L106.8 1524.6 L108.3 1531 L109.5 1524.3 L111.1 1511.7 L112.3 1551 L113.6 1564.9 L115.2 1555.7 L116.5 1519.2 L117.7 1508.9 L119.4 1522 L120.9 1538.8 L122.4 1552.4 L124 1547.4 L124.9 1556.2 L126.2 1541.9 L127.8 1519.6 L129.5 1527.1 L131 1514.1 L132.5 1497.9 L133.8 1532.4 L135.4 1522.5 L136.9 1533.7 L138.6 1509.5 L140.1 1500.6 L141.7 1517.2 L143.3 1506.8 L144.9 1515.7 L146.4 1521.8 L148 1494.8 L149.9 1486.1 L151.4 1504.1 L152.7 1481.2 L153.9 1466.7 L155.6 1500.5 L156.8 1520.8 L158.5 1529 L160 1495.1 L161.5 1453.1 L163.1 1459.8 L164.2 1509.2 L165.3 1556.4 L166.9 1557.1 L168.6 1557.3 L169.8 1547.9 L170.5 1538.3 L172.4 1536.8 L174.3 1537.6 L175.8 1530.9 L177.1 1550.6 L178.3 1556.6 L180.3 1560.6 L182.1 1552.1 L183.7 1537.7 L185.4 1542 L187.1 1536.7 L188.8 1549.2 L190.4 1555.9 L192.2 1555.9 L193.8 1548.5 L195.5 1539.8 L197.2 1538.6 L198.9 1536.5 L200.5 1531.4 L201.8 1553.9 L203.3 1557.8 L205.2 1560.9 L206.8 1550.5 L208.1 1536.8 L209.8 1539.4 L211.5 1534.8 L213.1 1541.3 L214.6 1544.9 L216.5 1549.8 L218.2 1542.7 L219.9 1539.7 L221.6 1540.9 L223.2 1535.6 L224.7 1532.6 L226.2 1549.3 L227.9 1553.3 L229.5 1553 L231 1546.3 L232.5 1540 L234.2 1536.2 L236.1 1538 L237.3 1547.8 L239.2 1542.1 L240.9 1544.2 L242.4 1538.6 L244.3 1535.9 L246.2 1538.4 L248.1 1536.8 L249.3 1528.6 L251 1543.6 L252.5 1547.9 L254 1549.2 L255.6 1540.9 L256.9 1530.5 L258.5 1535.9 L260 1533.9 L261.5 1525 L262.6 1561.1 L264.4 1565 L265.5 1565.7 L267 1560 L268.7 1562 L270.5 1559.8 L272.4 1560.2 L274.1 1557.1 L275.6 1563.6 L277.5 1567.7 L279.4 1562.5 L281.3 1558.6 L283.2 1559.1 L285 1557.2 L286.9 1560.3 L288.8 1562.4 L290.7 1558.9 L292.6 1556.6 L294.3 1558.4 L296 1554.8 L297.7 1551.1 L299.3 1560.4 L301.4 1564.8 L303.3 1561.7 L304.8 1556.8 L306.5 1557.6 L308.4 1556.3 L310.3 1558.2 L312.2 1555.6 L314 1558.1 L315.9 1555.1 L317.8 1555.4 L319.7 1557.6 L321.6 1551.7 L322.9 1550.2 L324.1 1559.1 L326 1563.2 L327.9 1559.9 L329.6 1554.6 L331.1 1552.3 L333 1553.9 L334.9 1550.5 L336.4 1559 L338 1559.9 L339.9 1555.9 L341.8 1553 L343.7 1555.5 L345.6 1554.3 L347.2 1551.2 L348.7 1555.1 L350.2 1561.7 L352.3 1560.2 L353.8 1556.2 L355 1547.5 L356.3 1554.5 L357.6 1552.1 L359.1 1543.8 L360.1 1577.4 L360.5 1578.6 L362.4 1580 L364.3 1575.5 L366.2 1576.5 L368.1 1581 L369.6 1574.5 L371.2 1571 L372.5 1580.5 L374.4 1582.5 L376.3 1581 L377.9 1573.4 L379.4 1571.5 L381.3 1573 L383.2 1567.6 L384.7 1576.4 L386.4 1578.6 L388.2 1575.9 L389.8 1565.9 L391.4 1568.7 L393 1566.5 L394.5 1563.3 L396.1 1569.9 L397.7 1578.5 L399.6 1581.5 L401.1 1580.3 L402.7 1567.4 L404.4 1561.7 L405.9 1568.7 L407.4 1559.5 L409 1568.3 L410.7 1571.2 L412.2 1573.5 L413.7 1561.9 L415.4 1557.6 L417 1560.8 L418.5 1556.6 L419.8 1552 L421 1565.6 L422.3 1577.8 L424.2 1578.4 L425.8 1572.9 L427.1 1552.5 L428.6 1552 L429.9 1559.9 L431.4 1553.3 L432.6 1551.5 L433.6 1580.8 L435.2 1585 L436.8 1586.8 L438.4 1574.6 L439.9 1561.5 L441.5 1568.2 L443.1 1565.7 L444.4 1561.2 L445.6 1572.8 L447.3 1580.7 L448.8 1582.5 L450.3 1575.5 L451.9 1568 L453.6 1568.9 L455.1 1565.3 L455.5 1565.9 L456.8 1561.2 L458 1580.6 L459.9 1583.6 L461.8 1577.4 L463.7 1578.8 L465.3 1574.4 L466.8 1579.1 L468.4 1574.1 L470 1573.4 L471.6 1583.3 L474 1582.6 L474.9 1319 L475.8 1575.7 L478.8 1576.1 L480.7 1573.9 L482.6 1579.4 L484.5 1575.1 L486.4 1580.8 L488.3 1576.3 L490.2 1574.8 L492.1 1580.8 L493.3 1573.2 L495.2 1579.4 L497.1 1582.5 L499 1577.1 L500.9 1574.5 L502.8 1579.3 L504.4 1573.7 L505.9 1583.3 L507.5 1575 L509.1 1574.8 L510.4 1578.8 L512 1572 L513.5 1576 L515.4 1572.7 L517 1577.8 L518.3 1567.6 L519.8 1575.7 L521.7 1579.9 L523.6 1573.5 L525.5 1571 L527.1 1576.2 L528.6 1574.2 L530.5 1569.8 L532.4 1575.3 L534.3 1576 L536.2 1571.3 L538.1 1569.2 L539.7 1574 L541.9 1569.4 L543.8 1576.7 L545.7 1579.7 L547.6 1573.5 L549.4 1568.6 L550.5 1570.4 L552.4 1570.6 L554 1566.7 L555.3 1583.2 L557.4 1584.1 L560 1580.8 L562.5 1581 L565 1579.8 L566.9 1581.4 L569.2 1580.5 L571.3 1585.4 L573.2 1580.3 L575.7 1577.5 L577.6 1578.9 L579.5 1578.2 L582 1583.4 L584.3 1579.3 L586.1 1570.6 L587.7 1574.9 L589.6 1579.3 L591.1 1574.9 L592.4 1568.1 L594 1572.3 L595.6 1571.7 L596.9 1566.4 L598.2 1541.8 L600.3 1539.5 L602.2 1535.7 L603.5 1535.4 L604.5 1559.5 L606 1562.2 L607.9 1563.3 L609.1 1549.1 L610.8 1531.5 L612.5 1534.2 L614.2 1529.5 L615.8 1521 L616.7 1554.4 L618.6 1559 L619.9 1556.9 L621.1 1537.6 L622.6 1519.6 L624.3 1524.7 L625.9 1519.2 L627.7 1513.2 L628.7 1552.7 L630.2 1564.5 L631.8 1564.3 L633.5 1550.2 L635.2 1535.3 L636.9 1542.6 L638.5 1544.3 L640 1529.9 L641.3 1555.4 L643.2 1558.5 L644.8 1554.8 L645.5 1549.9 L647.3 1508.3 L649.3 1515.9 L651.3 1513.2 L652.3 1504.2 L653.4 1583.7 L655.3 1589.3 L657.6 1580.6 L659.4 1573.1 L660.9 1582 L662.9 1567.5 L664.4 1579.5 L666.4 1588.7 L668.2 1589.7 L670 1574.3 L672 1569.2 L673.5 1571.3 L675 1561.9 L676.5 1581.5 L678.8 1586.5 L680.6 1577.9 L682.6 1575.3 L684.5 1579.3 L686.1 1580.1 L687.9 1588.7 L690.1 1586.6 L691.7 1579 L693.6 1569.7 L695.4 1575.8 L697.7 1588.6 L700 1588 L701.8 1577.6 L703.8 1574.4 L705.3 1578.5 L707.2 1573.9 L709.1 1581.1 L711.3 1584.4 L713.3 1575.5 L715.1 1563.2 L716.9 1570.9 L718.9 1560.9 L720.4 1586.3 L722.7 1582.5 L724.2 1575.7 L726.5 1572.7 L728.4 1575.8 L730.2 1571.7 L732.1 1594.3 L734 1588.9 L736 1592.2 L737.1 1576.1 L738.6 1571 L740.5 1575.3 L742.4 1564.6" fill="none" stroke="#e30613" stroke-width="1.8" stroke-linejoin="round"/>
<path d="M78.8 1553.5 L80.3 1558.5 L81.9 1551 L83.6 1540.9 L85.1 1539.6 L86.6 1532.1 L88.2 1540.9 L89.9 1552.2 L91.4 1556 L92.9 1564.8 L93.9 1538.4 L94.9 1524.5 L96.4 1528.3 L98 1539.6 L99.6 1561.1 L101.5 1562.3 L103 1553.5 L104.6 1530.8 L106.3 1527 L107.8 1530.8 L109 1525.8 L110.6 1514.4 L111.8 1548.4 L113.1 1563.6 L114.7 1553.5 L116 1522 L117.2 1511.9 L118.9 1523.2 L120.4 1538.4 L121.9 1551 L123.5 1544.7 L124.4 1553.5 L125.7 1540.9 L127.3 1520.7 L129 1527 L130.5 1515.7 L132 1500.5 L133.3 1529.5 L134.9 1520.7 L136.4 1530.8 L138.1 1510.6 L139.6 1503.1 L141.2 1516.9 L142.8 1508.1 L144.4 1514.4 L145.9 1520.7 L147.5 1496.7 L149.4 1487.9 L150.9 1503.1 L152.2 1482.9 L153.4 1469 L155.1 1500.5 L156.3 1518.2 L158 1527 L159.5 1495.5 L161 1455.1 L162.6 1461.4 L163.7 1510.6 L164.8 1553.5 L166.4 1556 L168.1 1554.8 L169.3 1547.2 L170 1540.4 L171.9 1537.8 L173.8 1539.1 L175.3 1532.8 L176.6 1550.4 L177.8 1555.5 L179.8 1559.3 L181.6 1550.4 L183.2 1540.4 L184.9 1542.9 L186.6 1537.8 L188.3 1547.9 L189.9 1554.2 L191.7 1554.2 L193.3 1547.9 L195 1540.4 L196.7 1540.4 L198.4 1537.8 L200 1532.8 L201.3 1551.7 L202.8 1556.7 L204.7 1558 L206.3 1550.4 L207.6 1539.1 L209.3 1540.4 L211 1535.9 L212.6 1541.6 L214.1 1543.5 L216 1547.9 L217.7 1542.9 L219.4 1540.4 L221.1 1541.6 L222.7 1537.8 L224.2 1535.3 L225.7 1547.9 L227.4 1550.4 L229 1551.7 L230.5 1546.7 L232 1540.4 L233.7 1537.8 L235.6 1539.1 L236.8 1546.7 L238.7 1541.6 L240.4 1542.9 L241.9 1539.1 L243.8 1536.6 L245.7 1539.1 L247.6 1536.6 L248.8 1531.5 L250.5 1542.9 L252 1545.4 L253.5 1547.9 L255.1 1540.4 L256.4 1531.5 L258 1536.6 L259.5 1535.3 L261 1527.7 L262.1 1559.3 L263.9 1563.7 L265 1563.1 L266.5 1560.5 L268.2 1561.8 L270 1559.3 L271.9 1559.9 L273.6 1557.4 L275.1 1563.1 L277 1566.2 L278.9 1561.8 L280.8 1559.3 L282.7 1559.9 L284.5 1558 L286.4 1560.5 L288.3 1561.8 L290.2 1558 L292.1 1556.1 L293.8 1558 L295.5 1555.5 L297.2 1553 L298.8 1560.5 L300.9 1563.7 L302.8 1560.5 L304.3 1556.7 L306 1558 L307.9 1556.1 L309.8 1557.4 L311.7 1555.5 L313.5 1557.4 L315.4 1554.9 L317.3 1555.5 L319.2 1556.7 L321.1 1553 L322.4 1551.7 L323.6 1558 L325.5 1561.2 L327.4 1559.3 L329.1 1554.2 L330.6 1553 L332.5 1554.2 L334.4 1552.3 L335.9 1558 L337.5 1559.3 L339.4 1555.5 L341.3 1553.6 L343.2 1554.9 L345.1 1554.2 L346.7 1551.7 L348.2 1555.5 L349.7 1559.9 L351.8 1558.6 L353.3 1555.5 L354.5 1549.2 L355.8 1554.2 L357.1 1553 L358.6 1545.4 L359.6 1574.4 L360 1575.7 L361.9 1578.2 L363.8 1575.7 L365.7 1576.9 L367.6 1579.4 L369.1 1574.4 L370.7 1572.5 L372 1579.4 L373.9 1580.7 L375.8 1579.4 L377.4 1574.4 L378.9 1571.9 L380.8 1573.1 L382.7 1568.7 L384.2 1575.7 L385.9 1576.9 L387.7 1574.4 L389.3 1566.8 L390.9 1568.7 L392.5 1568.1 L394 1565.6 L395.6 1570.6 L397.2 1576.9 L399.1 1580.1 L400.6 1578.2 L402.2 1568.1 L403.9 1564.3 L405.4 1568.7 L406.9 1561.8 L408.5 1568.7 L410.2 1570.6 L411.7 1571.9 L413.2 1563.1 L414.9 1559.3 L416.5 1561.8 L418 1558 L419.3 1554.2 L420.5 1565.6 L421.8 1575.7 L423.7 1576.9 L425.3 1570.6 L426.6 1555.5 L428.1 1554.2 L429.4 1560.5 L430.9 1555.5 L432.1 1554.2 L433.1 1578.2 L434.7 1583.2 L436.3 1585.8 L437.9 1574.4 L439.4 1564.3 L441 1568.7 L442.6 1566.8 L443.9 1563.1 L445.1 1571.9 L446.8 1578.2 L448.3 1580.7 L449.8 1574.4 L451.4 1568.7 L453.1 1569.4 L454.6 1566.8 L455 1566.8 L456.3 1563.1 L457.5 1578.2 L459.4 1580.7 L461.3 1576.9 L463.2 1578.8 L464.8 1574.4 L466.3 1579.4 L467.9 1575.7 L469.5 1574.4 L471.1 1582 L474 1582.6 L474.9 1319 L475.8 1575.7 L478.3 1576.9 L480.2 1574.4 L482.1 1578.2 L484 1575.7 L485.9 1580.1 L487.8 1576.9 L489.7 1575.7 L491.6 1579.4 L492.8 1574.4 L494.7 1578.2 L496.6 1580.7 L498.5 1576.9 L500.4 1575.7 L502.3 1578.2 L503.9 1574.4 L505.4 1582 L507 1575.7 L508.6 1574.4 L509.9 1578.2 L511.5 1573.1 L513 1575.7 L514.9 1573.8 L516.5 1576.9 L517.8 1569.4 L519.3 1575.7 L521.2 1578.2 L523.1 1573.1 L525 1572.5 L526.6 1575.7 L528.1 1574.4 L530 1570 L531.9 1574.4 L533.8 1575.7 L535.7 1571.9 L537.6 1570.6 L539.2 1573.1 L541.4 1570.6 L543.3 1575.7 L545.2 1578.2 L547.1 1573.1 L548.9 1569.4 L550 1570.7 L551.9 1572 L553.5 1568.2 L554.8 1582.1 L556.9 1582.7 L559.5 1580.8 L562 1581.4 L564.5 1580.2 L566.4 1581.4 L568.7 1580.8 L570.8 1583.9 L572.7 1580.2 L575.2 1578.9 L577.1 1579.5 L579 1578.3 L581.5 1581.4 L583.8 1578.3 L585.6 1572 L587.2 1575.8 L589.1 1577.6 L590.6 1574.5 L591.9 1568.8 L593.5 1570.7 L595.1 1569.4 L596.4 1564.4 L597.7 1543 L599.8 1541.7 L601.7 1537.9 L603 1536.7 L604 1558.1 L605.5 1560.6 L607.4 1560.6 L608.6 1549.3 L610.3 1532.9 L612 1535.4 L613.7 1531.6 L615.3 1523.4 L616.2 1551.8 L618.1 1556.2 L619.4 1555.6 L620.6 1537.9 L622.1 1521.5 L623.8 1526.6 L625.4 1521.5 L627.2 1515.9 L628.2 1550.5 L629.7 1561.9 L631.3 1563.1 L633 1550.5 L634.7 1536.7 L636.4 1543 L638 1544.2 L639.5 1532.9 L640.8 1553.1 L642.7 1555.6 L644.3 1551.8 L645 1547.5 L646.8 1511.2 L648.8 1517.2 L650.8 1515.7 L651.8 1505.9 L652.9 1580.8 L654.8 1586.9 L657.1 1579.3 L658.9 1574.7 L660.4 1580.8 L662.4 1570.2 L663.9 1579.3 L665.9 1586.9 L667.7 1588.4 L669.5 1574.7 L671.5 1571.7 L673 1573.2 L674.5 1564.2 L676 1580.8 L678.3 1585.3 L680.1 1577.8 L682.1 1576.3 L684 1579.3 L685.6 1580.8 L687.4 1586.9 L689.6 1585.3 L691.2 1579.3 L693.1 1571.7 L694.9 1576.3 L697.2 1586.9 L699.5 1586.9 L701.3 1577.8 L703.3 1576.3 L704.8 1578.5 L706.7 1574.7 L708.6 1579.3 L710.8 1582.3 L712.8 1574.7 L714.6 1565.7 L716.4 1571.7 L718.4 1563.4 L719.9 1583.8 L722.2 1580.8 L723.7 1576.3 L726 1574.7 L727.9 1577 L729.7 1573.2 L731.6 1592.9 L733.5 1586.9 L735.5 1589.9 L736.6 1577.8 L738.1 1572.5 L740 1576.3 L741.9 1567.2" fill="none" stroke="#0a0a0a" stroke-width="1.65" stroke-dasharray="7 3" stroke-linejoin="round"/>
<line x1="78.3" y1="1608.7" x2="776.3" y2="1608.7" stroke="#4a4e52" stroke-width="1.2"/>
<line x1="776.3" y1="1282.8" x2="776.3" y2="1609.3" stroke="#b5c2cc" stroke-width="1.2"/>
<line x1="78.3" y1="1282.8" x2="78.3" y2="1609.3" stroke="#22262a" stroke-width="1.2"/>
<text x="78.3" y="1628.7" font-size="17.9" text-anchor="middle" textLength="8.8" lengthAdjust="spacingAndGlyphs">0</text>
<line x1="165.6" y1="1608.7" x2="165.6" y2="1602.1" stroke="#555" stroke-width="1"/>
<line x1="165.6" y1="1283.3" x2="165.6" y2="1289.9" stroke="#7d8f9b" stroke-width="1"/>
<text x="165.6" y="1628.7" font-size="17.9" text-anchor="middle" textLength="26.4" lengthAdjust="spacingAndGlyphs">100</text>
<line x1="252.8" y1="1608.7" x2="252.8" y2="1602.1" stroke="#555" stroke-width="1"/>
<line x1="252.8" y1="1283.3" x2="252.8" y2="1289.9" stroke="#7d8f9b" stroke-width="1"/>
<text x="252.8" y="1628.7" font-size="17.9" text-anchor="middle" textLength="26.4" lengthAdjust="spacingAndGlyphs">200</text>
<line x1="340.1" y1="1608.7" x2="340.1" y2="1602.1" stroke="#555" stroke-width="1"/>
<line x1="340.1" y1="1283.3" x2="340.1" y2="1289.9" stroke="#7d8f9b" stroke-width="1"/>
<text x="340.1" y="1628.7" font-size="17.9" text-anchor="middle" textLength="26.4" lengthAdjust="spacingAndGlyphs">300</text>
<line x1="427.3" y1="1608.7" x2="427.3" y2="1602.1" stroke="#555" stroke-width="1"/>
<line x1="427.3" y1="1283.3" x2="427.3" y2="1289.9" stroke="#7d8f9b" stroke-width="1"/>
<text x="427.3" y="1628.7" font-size="17.9" text-anchor="middle" textLength="26.4" lengthAdjust="spacingAndGlyphs">400</text>
<line x1="514.5" y1="1608.7" x2="514.5" y2="1602.1" stroke="#555" stroke-width="1"/>
<line x1="514.5" y1="1283.3" x2="514.5" y2="1289.9" stroke="#7d8f9b" stroke-width="1"/>
<text x="514.5" y="1628.7" font-size="17.9" text-anchor="middle" textLength="26.4" lengthAdjust="spacingAndGlyphs">500</text>
<line x1="601.8" y1="1608.7" x2="601.8" y2="1602.1" stroke="#555" stroke-width="1"/>
<line x1="601.8" y1="1283.3" x2="601.8" y2="1289.9" stroke="#7d8f9b" stroke-width="1"/>
<text x="601.8" y="1628.7" font-size="17.9" text-anchor="middle" textLength="26.4" lengthAdjust="spacingAndGlyphs">600</text>
<line x1="689" y1="1608.7" x2="689" y2="1602.1" stroke="#555" stroke-width="1"/>
<line x1="689" y1="1283.3" x2="689" y2="1289.9" stroke="#7d8f9b" stroke-width="1"/>
<text x="689" y="1628.7" font-size="17.9" text-anchor="middle" textLength="26.4" lengthAdjust="spacingAndGlyphs">700</text>
<text x="776.3" y="1628.7" font-size="17.9" text-anchor="middle" textLength="26.4" lengthAdjust="spacingAndGlyphs">800</text>
<text x="72.6" y="1615.3" font-size="17.9" text-anchor="end" textLength="8.8" lengthAdjust="spacingAndGlyphs">0</text>
<line x1="776.3" y1="1554.5" x2="769.7" y2="1554.5" stroke="#7d8f9b" stroke-width="1"/>
<text x="72.6" y="1561" font-size="17.9" text-anchor="end" textLength="26.4" lengthAdjust="spacingAndGlyphs">500</text>
<text x="72.6" y="1506.8" font-size="17.9" text-anchor="end" textLength="35.1" lengthAdjust="spacingAndGlyphs">1000</text>
<line x1="78.3" y1="1446" x2="84.9" y2="1446" stroke="#5a6a76" stroke-width="1"/>
<line x1="776.3" y1="1446" x2="769.7" y2="1446" stroke="#4a5056" stroke-width="1"/>
<text x="72.6" y="1452.6" font-size="17.9" text-anchor="end" textLength="35.1" lengthAdjust="spacingAndGlyphs">1500</text>
<line x1="78.3" y1="1391.8" x2="84.9" y2="1391.8" stroke="#2e3338" stroke-width="1"/>
<line x1="776.3" y1="1391.8" x2="769.7" y2="1391.8" stroke="#2e3338" stroke-width="1"/>
<text x="72.6" y="1398.3" font-size="17.9" text-anchor="end" textLength="35.1" lengthAdjust="spacingAndGlyphs">2000</text>
<line x1="78.3" y1="1337.5" x2="84.9" y2="1337.5" stroke="#8fb5b5" stroke-width="1"/>
<line x1="776.3" y1="1337.5" x2="769.7" y2="1337.5" stroke="#8fa3b0" stroke-width="1"/>
<text x="72.6" y="1344.1" font-size="17.9" text-anchor="end" textLength="35.1" lengthAdjust="spacingAndGlyphs">2500</text>
<text x="72.6" y="1289.9" font-size="17.9" text-anchor="end" textLength="35.1" lengthAdjust="spacingAndGlyphs">3000</text>
<text x="427.4" y="1279.5" font-size="18.30" text-anchor="middle" textLength="109.8" lengthAdjust="spacingAndGlyphs">All Data Plot</text>
<text x="421.6" y="1645.9" font-size="18.30" text-anchor="middle" textLength="99.7" lengthAdjust="spacingAndGlyphs">All Samples</text>
<text transform="translate(19.2 1445.7) rotate(-90)" font-size="19.41" text-anchor="middle" textLength="120.1" lengthAdjust="spacingAndGlyphs">Output/Target</text>
<rect x="681.2" y="1291.2" width="87.4" height="42.3" fill="#fff"/>
<line x1="681.2" y1="1291.2" x2="681.2" y2="1333.5" stroke="#444" stroke-width="1"/>
<line x1="681.2" y1="1291.2" x2="768.6" y2="1291.2" stroke="#444" stroke-width="1"/>
<line x1="768.6" y1="1291.2" x2="768.6" y2="1333.5" stroke="#444" stroke-width="1"/>
<line x1="681.2" y1="1333.5" x2="768.6" y2="1333.5" stroke="#a0c0c0" stroke-width="1"/>
<line x1="684" y1="1301.9" x2="701" y2="1301.9" stroke="#e03060" stroke-width="1.2"/>
<line x1="684" y1="1322.7" x2="701.6" y2="1322.7" stroke="#111" stroke-width="1.8" stroke-dasharray="5.3 7.0"/>
<text x="703.2" y="1308.2" font-size="17.50" text-anchor="start" textLength="57.8" lengthAdjust="spacingAndGlyphs">Targets</text>
<text x="703.2" y="1328.2" font-size="17.50" text-anchor="start" textLength="61.7" lengthAdjust="spacingAndGlyphs">Outputs</text>
</g>
</svg>
</body></html>
